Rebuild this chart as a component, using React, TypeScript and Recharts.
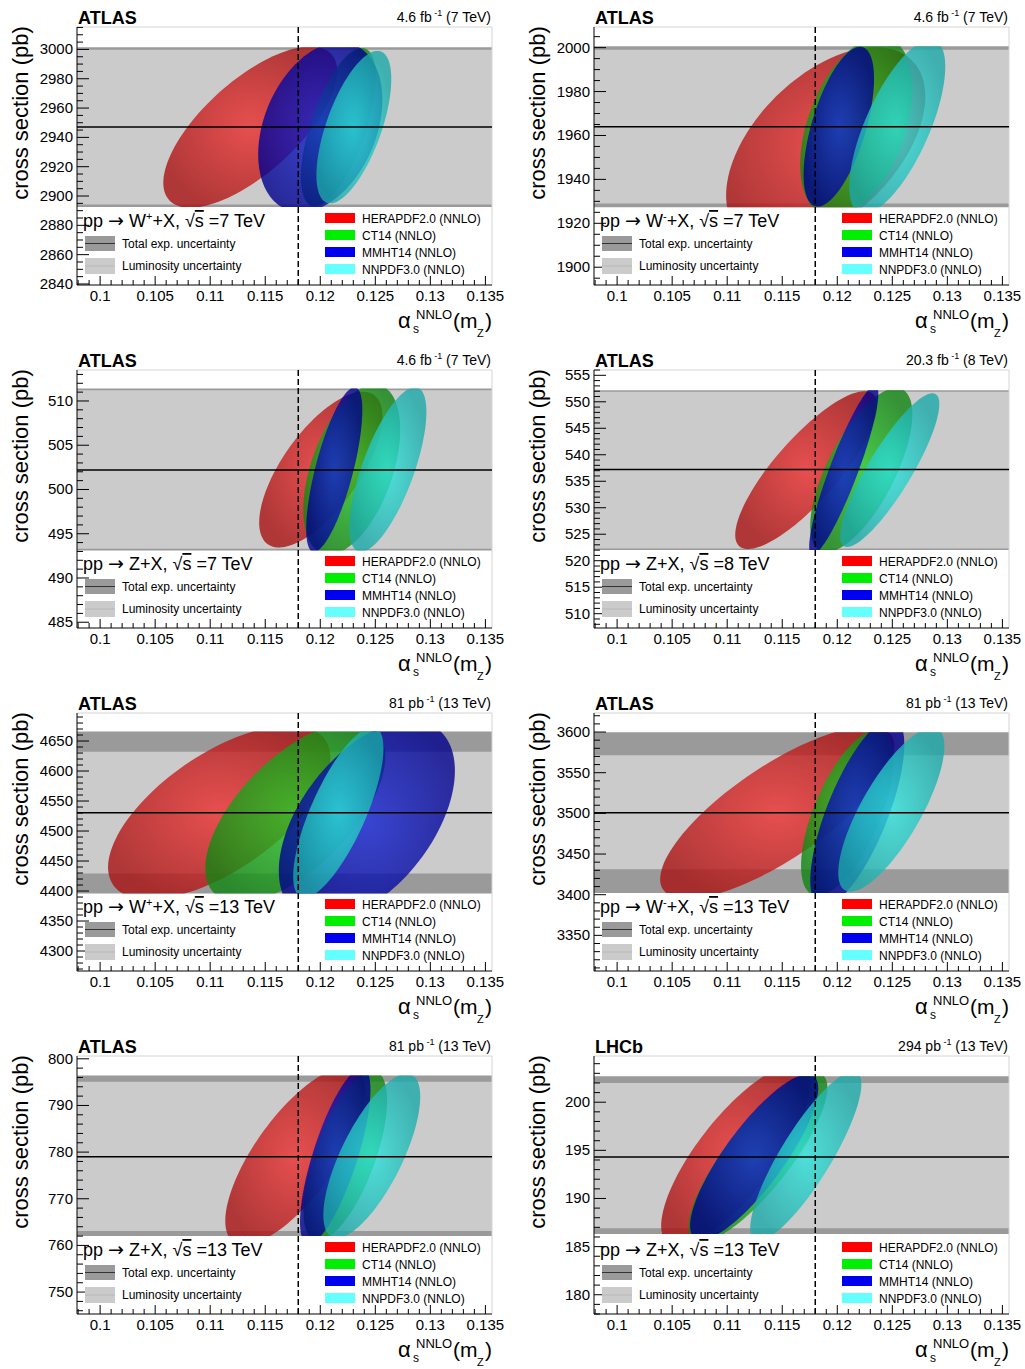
import React from "react";
import {
  ReferenceArea,
  ReferenceLine,
  Scatter,
  ScatterChart,
  XAxis,
  YAxis,
} from "recharts";

const FONT = '"Liberation Sans", Arial, Helvetica, sans-serif';

// ---- data ----
const pdfSets = ["HERAPDF2.0 (NNLO)", "CT14 (NNLO)", "MMHT14 (NNLO)", "NNPDF3.0 (NNLO)"];

const xMajorTicks = [0.1, 0.105, 0.11, 0.115, 0.12, 0.125, 0.13, 0.135];
const xMajorLabels = ["0.1", "0.105", "0.11", "0.115", "0.12", "0.125", "0.13", "0.135"];
const xRange = [0.0979, 0.1356];
const alphaSRef = 0.118;

const experiments = ["ATLAS", "ATLAS", "ATLAS", "ATLAS", "ATLAS", "ATLAS", "ATLAS", "LHCb"];
const lumiValues = ["4.6", "4.6", "4.6", "20.3", "81", "81", "81", "294"];
const lumiUnits = ["fb", "fb", "fb", "fb", "pb", "pb", "pb", "pb"];
const energies = ["7", "7", "7", "8", "13", "13", "13", "13"];
const bosons = ["W", "W", "Z", "Z", "W", "W", "Z", "Z"];
const charges = ["+", "-", "", "", "+", "-", "", ""];

const measured = [2947, 1964, 502.2, 537.2, 4530.5, 3500.8, 779, 194.3];
const totalBands = [
  [2892.5, 3001.5],
  [1927.3, 2000.6],
  [493.1, 511.4],
  [522.0, 552.2],
  [4396, 4666],
  [3402, 3599.6],
  [762.0, 796.4],
  [186.3, 202.7],
];
const lumiBands = [
  [2894.3, 2999.7],
  [1929, 1999],
  [493.3, 511.2],
  [522.3, 551.9],
  [4429, 4632],
  [3431.4, 3571.6],
  [763.1, 795.1],
  [186.9, 202.0],
];
const yRanges = [
  [2839.3, 3015.3],
  [1891.9, 2009.4],
  [484.35, 513.5],
  [507.3, 556],
  [4266.7, 4696.7],
  [3306.2, 3623.4],
  [745.3, 800.6],
  [178.0, 204.8],
];
const yMajorTicks = [
  [2840, 2860, 2880, 2900, 2920, 2940, 2960, 2980, 3000],
  [1900, 1920, 1940, 1960, 1980, 2000],
  [485, 490, 495, 500, 505, 510],
  [510, 515, 520, 525, 530, 535, 540, 545, 550, 555],
  [4300, 4350, 4400, 4450, 4500, 4550, 4600, 4650],
  [3350, 3400, 3450, 3500, 3550, 3600],
  [750, 760, 770, 780, 790, 800],
  [180, 185, 190, 195, 200],
];
const yMinorSteps = [5, 5, 1, 1, 10, 10, 2, 1];

// ellipses: centre (as, xs), half extents (dAs, dXs), correlation rho
// order: HERAPDF2.0, CT14, MMHT14, NNPDF3.0
const wPlus7 = [
  { as: 0.11364, xs: 2947, dAs: 0.0079, dXs: 55, rho: 0.69 },
  { as: 0.12164, xs: 2947, dAs: 0.0034, dXs: 54, rho: 0.63 },
  { as: 0.12, xs: 2947, dAs: 0.00564, dXs: 58, rho: 0.32 },
  { as: 0.12305, xs: 2947, dAs: 0.0034, dXs: 52, rho: 0.63 },
];
const wMinus7 = [
  { as: 0.11895, xs: 1955.2, dAs: 0.00905, dXs: 45, rho: 0.5 },
  { as: 0.12173, xs: 1964, dAs: 0.0051, dXs: 41, rho: 0.42 },
  { as: 0.12014, xs: 1964, dAs: 0.0032, dXs: 36.4, rho: 0.6 },
  { as: 0.12545, xs: 1964, dAs: 0.00436, dXs: 39.6, rho: 0.69 },
];
const z7 = [
  { as: 0.12005, xs: 502.25, dAs: 0.0056, dXs: 8.8, rho: 0.68 },
  { as: 0.12286, xs: 502.25, dAs: 0.0044, dXs: 9.6, rho: 0.47 },
  { as: 0.12127, xs: 502.25, dAs: 0.00255, dXs: 9.3, rho: 0.72 },
  { as: 0.12614, xs: 502.25, dAs: 0.0035, dXs: 9.3, rho: 0.7 },
];
const z8 = [
  { as: 0.11718, xs: 537.1, dAs: 0.00645, dXs: 14.9, rho: 0.82 },
  { as: 0.12218, xs: 537.1, dAs: 0.00464, dXs: 15.5, rho: 0.68 },
  { as: 0.12059, xs: 537.1, dAs: 0.00314, dXs: 16, rho: 0.9 },
  { as: 0.12477, xs: 537.1, dAs: 0.0045, dXs: 14.5, rho: 0.86 },
];
const wPlus13 = [
  { as: 0.11082, xs: 4531, dAs: 0.0101, dXs: 145, rho: 0.63 },
  { as: 0.11773, xs: 4531, dAs: 0.00818, dXs: 150, rho: 0.62 },
  { as: 0.12423, xs: 4517, dAs: 0.008, dXs: 167, rho: 0.5 },
  { as: 0.12164, xs: 4531, dAs: 0.0041, dXs: 142, rho: 0.75 },
];
const wMinus13 = [
  { as: 0.11455, xs: 3500.8, dAs: 0.01064, dXs: 106, rho: 0.77 },
  { as: 0.12091, xs: 3500.8, dAs: 0.0042, dXs: 102, rho: 0.64 },
  { as: 0.12182, xs: 3500.8, dAs: 0.00427, dXs: 116, rho: 0.72 },
  { as: 0.12491, xs: 3504.7, dAs: 0.00482, dXs: 101, rho: 0.77 },
];
const z13 = [
  { as: 0.11773, xs: 779.2, dAs: 0.00636, dXs: 19.1, rho: 0.73 },
  { as: 0.12227, xs: 779.2, dAs: 0.0038, dXs: 18.2, rho: 0.65 },
  { as: 0.12136, xs: 779.2, dAs: 0.0032, dXs: 18.9, rho: 0.75 },
  { as: 0.12468, xs: 779.2, dAs: 0.0044, dXs: 17.6, rho: 0.72 },
];
const z13LHCb = [
  { as: 0.11077, xs: 194.5, dAs: 0.00677, dXs: 9.4, rho: 0.78 },
  { as: 0.1128, xs: 194.3, dAs: 0.0063, dXs: 8.8, rho: 0.82 },
  { as: 0.11245, xs: 194.3, dAs: 0.00582, dXs: 8.6, rho: 0.83 },
  { as: 0.11714, xs: 194.4, dAs: 0.00505, dXs: 8.8, rho: 0.85 },
];
const ellipseSets = [wPlus7, wMinus7, z7, z8, wPlus13, wMinus13, z13, z13LHCb];

// ---- styling ----
const pdfColors = [
  { box: "#ff0000", light: "#ee3030", dark: "#a81212" },
  { box: "#00ee00", light: "#26cc26", dark: "#118411" },
  { box: "#0000ee", light: "#1424d4", dark: "#00008c" },
  { box: "#66ffff", light: "#30e4dc", dark: "#1ca8a8" },
];
const DARK_BAND = "#9a9a9a";
const LIGHT_BAND = "#cbcbcb";

const PANEL_W = 512;
const PANEL_H = 343;
const PLOT_W = 415;
const PLOT_H = 258;

const minorTicks = (lo: number, hi: number, step: number) => {
  const out: number[] = [];
  for (let v = Math.ceil(lo / step - 1e-9) * step; v <= hi + 1e-9; v += step) {
    out.push(+v.toFixed(6));
  }
  return out;
};

const isMajor = (v: number, majors: number[]) => majors.findIndex((m) => Math.abs(m - v) < 1e-7);

const XTick = (props: any) => {
  const { x, y, payload } = props;
  const k = isMajor(payload.value, xMajorTicks);
  return (
    <g>
      <line x1={x} x2={x} y1={y} y2={y - (k >= 0 ? 9 : 5)} stroke="#000" />
      {k >= 0 && (
        <text x={x} y={y + 16} textAnchor="middle" fontSize={15} fontFamily={FONT} fill="#000">
          {xMajorLabels[k]}
        </text>
      )}
    </g>
  );
};

const makeYTick = (majors: number[]) => (props: any) => {
  const { x, y, payload } = props;
  const k = isMajor(payload.value, majors);
  return (
    <g>
      <line x1={x} x2={x + (k >= 0 ? 12 : 6)} y1={y} y2={y} stroke="#000" />
      {k >= 0 && (
        <text x={x - 4} y={y + 5} textAnchor="end" fontSize={15} fontFamily={FONT} fill="#000">
          {majors[k]}
        </text>
      )}
    </g>
  );
};

const makeEllipse = (panel: number, pdf: number) => (props: any) => {
  const { cx, cy } = props;
  const d = props.payload ?? props;
  const [y0, y1] = yRanges[panel];
  const kx = PLOT_W / (xRange[1] - xRange[0]);
  const ky = PLOT_H / (y1 - y0);
  const ax = d.dAs * kx;
  const ay = d.dXs * ky;
  const r = d.rho;
  const q = Math.sqrt(1 - r * r);
  let path = "";
  const n = 120;
  for (let i = 0; i <= n; i++) {
    const t = (i / n) * Math.PI * 2;
    const px = cx + ax * Math.cos(t);
    const py = cy - ay * (r * Math.cos(t) + q * Math.sin(t));
    path += `${i ? "L" : "M"}${px.toFixed(2)},${py.toFixed(2)}`;
  }
  const top = cy - (totalBands[panel][1] - d.xs) * ky;
  const bottom = cy + (d.xs - totalBands[panel][0]) * ky;
  const id = `ell-${panel}-${pdf}`;
  const c = pdfColors[pdf];
  return (
    <g>
      <defs>
        <clipPath id={`clip-${id}`}>
          <rect x={0} y={top} width={PANEL_W} height={bottom - top} />
        </clipPath>
        <radialGradient id={`grad-${id}`} cx="50%" cy="50%" r="55%">
          <stop offset="0%" stopColor={c.light} />
          <stop offset="100%" stopColor={c.dark} />
        </radialGradient>
      </defs>
      <path d={path + "Z"} fill={`url(#grad-${id})`} fillOpacity={0.8} clipPath={`url(#clip-${id})`} />
    </g>
  );
};

const Overlay = ({ i }: { i: number }) => (
  <svg
    width={PANEL_W}
    height={PANEL_H}
    style={{ position: "absolute", left: 0, top: 0, pointerEvents: "none" }}
    fontFamily={FONT}
  >
    <text x={78} y={24} fontSize={18} fontWeight="bold">
      {experiments[i]}
    </text>
    <text x={491} y={22} fontSize={14} textAnchor="end">
      {lumiValues[i] + " " + lumiUnits[i]}
      <tspan fontSize={9} dy={-6}>
        {" -1"}
      </tspan>
      <tspan dy={6}>{` (${energies[i]} TeV)`}</tspan>
    </text>
    <text transform="translate(28,113) rotate(-90)" textAnchor="middle" fontSize={22}>
      cross section (pb)
    </text>

    {/* x axis title */}
    <text x={398} y={328} fontSize={22}>α</text>
    <text x={413} y={333} fontSize={12}>s</text>
    <text x={416} y={319} fontSize={13}>NNLO</text>
    <text x={453} y={328} fontSize={21}>(m</text>
    <text x={477} y={337} fontSize={11}>Z</text>
    <text x={485} y={328} fontSize={21}>)</text>

    {/* process label */}
    <text x={83} y={227} fontSize={18}>
      {"pp "}
      <tspan fontFamily='"DejaVu Sans", sans-serif' fontSize={19}>
        →
      </tspan>
      {" " + bosons[i]}
      {charges[i] ? (
        <>
          <tspan fontSize={11} dy={-7}>
            {charges[i]}
          </tspan>
          <tspan dy={7}>{"+X, "}</tspan>
        </>
      ) : (
        <tspan>{"+X, "}</tspan>
      )}
      <tspan>√</tspan>
      <tspan style={{ textDecoration: "overline" }}>s</tspan>
      <tspan>{` =${energies[i]} TeV`}</tspan>
    </text>

    {/* uncertainty legend */}
    <rect x={85} y={236} width={30} height={15} fill={DARK_BAND} />
    <line x1={85} x2={115} y1={243.5} y2={243.5} stroke="#333" />
    <text x={122} y={248} fontSize={12}>
      Total exp. uncertainty
    </text>
    <rect x={85} y={258} width={30} height={16} fill={LIGHT_BAND} />
    <line x1={85} x2={115} y1={266} y2={266} stroke="#b8b8b8" />
    <text x={122} y={270} fontSize={12}>
      Luminosity uncertainty
    </text>

    {/* PDF legend */}
    {pdfSets.map((name, k) => (
      <g key={name}>
        <rect x={325} y={213 + k * 17} width={30} height={10} fill={pdfColors[k].box} />
        <text x={362} y={222.5 + k * 17} fontSize={12}>
          {name}
        </text>
      </g>
    ))}
  </svg>
);

const Panel = ({ i }: { i: number }) => {
  const [y0, y1] = yRanges[i];
  const yTicks = minorTicks(y0, y1, yMinorSteps[i]);
  const xTicks = minorTicks(xRange[0], xRange[1], 0.001);
  return (
    <div
      style={{
        position: "absolute",
        left: (i % 2) * 517,
        top: Math.floor(i / 2) * 343,
        width: PANEL_W,
        height: PANEL_H,
      }}
    >
      <ScatterChart width={PANEL_W} height={PANEL_H} margin={{ top: 27, right: 20, bottom: 28, left: 0 }}>
        <ReferenceArea y1={totalBands[i][0]} y2={totalBands[i][1]} fill={DARK_BAND} fillOpacity={1} stroke="none" zIndex={50} />
        <ReferenceArea y1={lumiBands[i][0]} y2={lumiBands[i][1]} fill={LIGHT_BAND} fillOpacity={1} stroke="none" zIndex={51} />
        <ReferenceLine y={y1} stroke="#d4d4d4" zIndex={52} />
        <ReferenceLine x={xRange[1]} stroke="#d4d4d4" zIndex={52} />
        <XAxis
          type="number"
          dataKey="as"
          domain={xRange}
          allowDataOverflow
          ticks={xTicks}
          interval={0}
          tick={XTick}
          tickLine={false}
          tickSize={0}
          tickMargin={0}
          height={30}
          axisLine={{ stroke: "#000" }}
        />
        <YAxis
          type="number"
          dataKey="xs"
          domain={yRanges[i]}
          allowDataOverflow
          ticks={yTicks}
          interval={0}
          tick={makeYTick(yMajorTicks[i])}
          tickLine={false}
          tickSize={0}
          tickMargin={0}
          width={77}
          axisLine={{ stroke: "#000" }}
        />
        {ellipseSets[i].map((e, k) => (
          <Scatter
            key={pdfSets[k]}
            name={pdfSets[k]}
            data={[e]}
            shape={makeEllipse(i, k)}
            isAnimationActive={false}
          />
        ))}
        <ReferenceLine y={measured[i]} stroke="#000" strokeWidth={1.5} zIndex={1500} />
        <ReferenceLine x={alphaSRef} stroke="#000" strokeWidth={1.5} strokeDasharray="6 3" zIndex={1500} />
      </ScatterChart>
      <Overlay i={i} />
    </div>
  );
}

export default function App() {
  return (
    <div
      style={{
        position: "absolute",
        left: 0,
        top: 0,
        width: 1025,
        height: 1369,
        background: "#fff",
        fontFamily: FONT,
      }}
    >
      {experiments.map((_, i) => (
        <Panel key={i} i={i} />
      ))}
    </div>
  );
}
